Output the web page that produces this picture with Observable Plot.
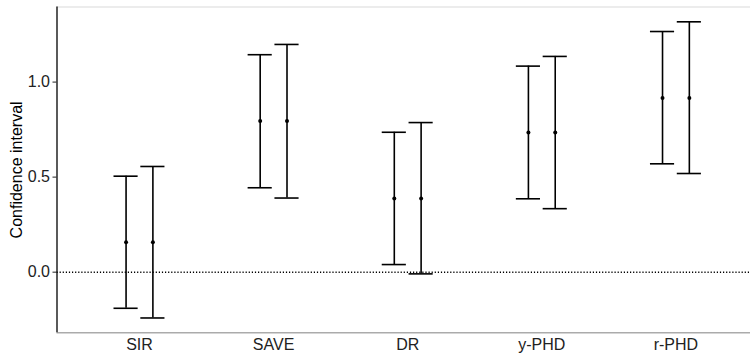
<!DOCTYPE html>
<html>
<head>
<meta charset="utf-8">
<script src="https://cdn.jsdelivr.net/npm/d3@7"></script>
<script src="https://cdn.jsdelivr.net/npm/@observablehq/plot@0.6"></script>
<style>
  html, body { margin: 0; padding: 0; background: #fff; }
  #chart svg { display: block; }
</style>
</head>
<body>
<div id="chart"></div>
<script>
const methods = ["SIR", "SAVE", "DR", "y-PHD", "r-PHD"];
const estimate = [0.157, 0.795, 0.388, 0.735, 0.916];
const lowerA = [-0.190, 0.444, 0.040, 0.386, 0.570];
const upperA = [0.505, 1.144, 0.736, 1.084, 1.266];
const lowerB = [-0.241, 0.390, -0.009, 0.334, 0.519];
const upperB = [0.556, 1.198, 0.787, 1.135, 1.317];
const yTicks = [0, 0.5, 1.0];
const yTitle = "Confidence interval";

const dodge = 0.1;   // half distance between paired intervals (category units)
const capHalf = 0.09;

const rows = [];
methods.forEach((m, i) => {
  rows.push({method: m, pos: i + 1 - dodge, est: estimate[i], lower: lowerA[i], upper: upperA[i]});
  rows.push({method: m, pos: i + 1 + dodge, est: estimate[i], lower: lowerB[i], upper: upperB[i]});
});

const xDomain = [0.385, 5.556];
const yDomain = [-0.319, 1.395];
const font = "'Liberation Sans', Arial, sans-serif";

const chart = Plot.plot({
  width: 750,
  height: 355,
  marginLeft: 56.5,
  marginRight: 0,
  marginTop: 6.5,
  marginBottom: 22.7,
  style: {fontFamily: font, background: "#fff"},
  x: {type: "linear", domain: xDomain},
  y: {domain: yDomain},
  marks: [
    Plot.ruleY([yDomain[1]], {stroke: "#d9d9d9", strokeWidth: 1.2}),
    Plot.ruleY([yDomain[0]], {stroke: "#ababab", strokeWidth: 1.4}),
    Plot.ruleY([0], {stroke: "#000", strokeWidth: 1.5, strokeDasharray: "1.2,1.9"}),
    Plot.ruleX(rows, {x: "pos", y1: "lower", y2: "upper", stroke: "#000", strokeWidth: 1.6}),
    Plot.ruleY(rows, {y: "lower", x1: d => d.pos - capHalf, x2: d => d.pos + capHalf, stroke: "#000", strokeWidth: 1.6}),
    Plot.ruleY(rows, {y: "upper", x1: d => d.pos - capHalf, x2: d => d.pos + capHalf, stroke: "#000", strokeWidth: 1.6}),
    Plot.dot(rows, {x: "pos", y: "est", r: 2, fill: "#000", stroke: null}),
    Plot.ruleX([xDomain[0]], {stroke: "#000", strokeWidth: 1.3}),
    Plot.axisX({
      ticks: methods.map((_, i) => i + 1),
      tickFormat: v => methods[Math.round(v) - 1],
      tickSize: 0,
      tickPadding: 6,
      fontSize: 16,
      fill: "#222",
      label: null
    }),
    Plot.axisY({
      ticks: yTicks,
      tickFormat: d3.format(".1f"),
      tickSize: 4,
      tickPadding: 3,
      fontSize: 16,
      fill: "#222",
      stroke: "#222",
      label: null
    }),
    Plot.text([yTitle], {
      text: d => d,
      frameAnchor: "left",
      textAnchor: "middle",
      lineAnchor: "middle",
      rotate: -90,
      dx: -40,
      fontSize: 16,
      fill: "#000"
    })
  ]
});

document.getElementById("chart").appendChild(chart);
</script>
</body>
</html>
